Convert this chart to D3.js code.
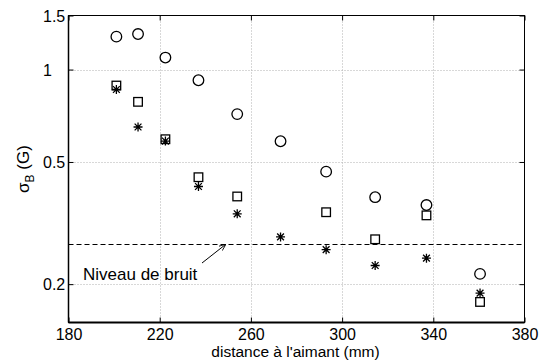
<!DOCTYPE html>
<html>
<head>
<meta charset="utf-8">
<script src="https://cdn.jsdelivr.net/npm/d3@7"></script>
<style>
  body { margin: 0; background: #fff; }
  text { font-family: "Liberation Sans", Arial, sans-serif; }
</style>
</head>
<body>
<svg id="chart"></svg>
<script>
// distance (mm) and sigma_B (G) for the three series
const distance = [201, 210.5, 222.5, 237, 254, 273, 293, 314.5, 337, 360.5];
const circles = [1.28, 1.305, 1.094, 0.923, 0.716, 0.584, 0.465, 0.384, 0.362, 0.216];
const squares = [0.887, 0.785, 0.593, 0.446, 0.386, null, 0.343, 0.280, 0.335, 0.175];
const stars = [0.861, 0.650, 0.585, 0.416, 0.339, 0.285, 0.259, 0.230, 0.243, 0.187];
const noiseLevel = 0.27;

const xTicks = [180, 220, 260, 300, 340, 380];
const yTicks = [0.2, 0.5, 1, 1.5];
const xGrid = [220, 260, 300, 340];
const yGrid = [0.2, 0.5, 1];

const config = {
    width: 546,
    height: 360,
    left: 68.5, right: 524.5, top: 15.5, bottom: 322.5,
    tickFontSize: 16,
    fontSize: 17,
    tickLength: 5
};

const svg = d3.select('#chart')
    .attr('width', config.width)
    .attr('height', config.height);

const x = d3.scaleLinear().domain([180, 380]).range([config.left, config.right]);
const y = d3.scaleLog().domain([0.15, 1.5]).range([config.bottom, config.top]);

// grid
svg.append('g').selectAll('line.gx')
    .data(xGrid).enter().append('line')
    .attr('x1', d => Math.round(x(d)) + 0.5).attr('x2', d => Math.round(x(d)) + 0.5)
    .attr('y1', config.top).attr('y2', config.bottom)
    .attr('stroke', '#b0b0b0').attr('stroke-width', 1).attr('stroke-dasharray', '1,2');
svg.append('g').selectAll('line.gy')
    .data(yGrid).enter().append('line')
    .attr('x1', config.left).attr('x2', config.right)
    .attr('y1', d => Math.round(y(d)) + 0.5).attr('y2', d => Math.round(y(d)) + 0.5)
    .attr('stroke', '#b0b0b0').attr('stroke-width', 1).attr('stroke-dasharray', '1,2');

// noise level
svg.append('line')
    .attr('x1', config.left).attr('x2', config.right)
    .attr('y1', Math.round(y(noiseLevel)) + 0.5).attr('y2', Math.round(y(noiseLevel)) + 0.5)
    .attr('stroke', '#000').attr('stroke-width', 1).attr('stroke-dasharray', '5,3');

// axes (MATLAB style, ticks inward on all four sides)
const xAxisB = d3.axisBottom(x).tickValues(xTicks).tickSize(-config.tickLength).tickPadding(6).tickFormat(d3.format('d'));
const xAxisT = d3.axisTop(x).tickValues(xTicks).tickSize(-config.tickLength).tickFormat('');
const yAxisL = d3.axisLeft(y).tickValues(yTicks).tickSize(-config.tickLength).tickFormat(d => String(d));
const yAxisR = d3.axisRight(y).tickValues(yTicks).tickSize(-config.tickLength).tickFormat('');

const gB = svg.append('g').attr('transform', `translate(0,${config.bottom})`).call(xAxisB);
svg.append('g').attr('transform', `translate(0,${config.top})`).call(xAxisT);
const gL = svg.append('g').attr('transform', `translate(${config.left},0)`).call(yAxisL);
svg.append('g').attr('transform', `translate(${config.right},0)`).call(yAxisR);

svg.selectAll('.domain').remove();
svg.selectAll('.tick line').attr('stroke', '#000');
svg.selectAll('.tick text')
    .attr('font-size', config.tickFontSize)
    .attr('font-family', '"Liberation Sans", Arial, sans-serif')
    .attr('fill', '#000');
gB.selectAll('.tick text').attr('dy', '0.69em');
// MATLAB pads labels, so they line up on the left
gL.selectAll('.tick text')
    .attr('text-anchor', 'start')
    .attr('x', 43 - config.left)
    .attr('dy', '0.35em');

// box
svg.append('rect')
    .attr('x', config.left).attr('y', config.top)
    .attr('width', config.right - config.left).attr('height', config.bottom - config.top)
    .attr('fill', 'none').attr('stroke', '#000').attr('stroke-width', 1);
svg.append('line')
    .attr('x1', config.left).attr('x2', config.right)
    .attr('y1', config.bottom).attr('y2', config.bottom)
    .attr('stroke', '#000').attr('stroke-width', 2);
svg.append('line')
    .attr('x1', config.left).attr('x2', config.left)
    .attr('y1', config.top).attr('y2', config.bottom)
    .attr('stroke', '#000').attr('stroke-width', 1.5);

// markers
const marks = svg.append('g').attr('fill', 'none').attr('stroke', '#000').attr('stroke-width', 1.3);

marks.selectAll('circle')
    .data(distance.map((d, i) => [d, circles[i]]).filter(d => d[1] != null))
    .enter().append('circle')
    .attr('cx', d => x(d[0])).attr('cy', d => y(d[1]))
    .attr('r', 5.3);

marks.selectAll('rect')
    .data(distance.map((d, i) => [d, squares[i]]).filter(d => d[1] != null))
    .enter().append('rect')
    .attr('x', d => x(d[0]) - 4.3).attr('y', d => y(d[1]) - 4.3)
    .attr('width', 8.6).attr('height', 8.6);

const s = 4.5, sd = 3.4;
marks.selectAll('path.star')
    .data(distance.map((d, i) => [d, stars[i]]).filter(d => d[1] != null))
    .enter().append('path')
    .attr('class', 'star')
    .attr('d', d => {
        const cx = x(d[0]), cy = y(d[1]);
        return `M${cx - s},${cy}H${cx + s}M${cx},${cy - s}V${cy + s}` +
            `M${cx - sd},${cy - sd}L${cx + sd},${cy + sd}M${cx - sd},${cy + sd}L${cx + sd},${cy - sd}`;
    });

// annotation
svg.append('text')
    .attr('x', 83).attr('y', 280)
    .attr('font-size', config.fontSize)
    .text('Niveau de bruit');

svg.append('defs').append('marker')
    .attr('id', 'arrow')
    .attr('viewBox', '0 0 10 10')
    .attr('refX', 10).attr('refY', 5)
    .attr('markerWidth', 7).attr('markerHeight', 7)
    .attr('orient', 'auto')
    .append('path')
    .attr('d', 'M0,1L10,5L0,9')
    .attr('fill', 'none').attr('stroke', '#000').attr('stroke-width', 1.2);

svg.append('line')
    .attr('x1', 202).attr('y1', 263)
    .attr('x2', 226).attr('y2', y(noiseLevel))
    .attr('stroke', '#000').attr('stroke-width', 1)
    .attr('marker-end', 'url(#arrow)');

// axis labels
svg.append('text')
    .attr('x', 295.5)
    .attr('y', 356.5)
    .attr('text-anchor', 'middle')
    .attr('font-size', 15.5)
    .text('distance à l\'aimant (mm)');

const yl = svg.append('text')
    .attr('transform', `translate(29,${(config.top + config.bottom) / 2}) rotate(-90)`)
    .attr('text-anchor', 'middle')
    .attr('font-size', config.fontSize);
yl.append('tspan').text('σ');
yl.append('tspan').attr('font-size', 12).attr('dy', 5).text('B');
yl.append('tspan').attr('dy', -5).text(' (G)');
</script>
</body>
</html>
